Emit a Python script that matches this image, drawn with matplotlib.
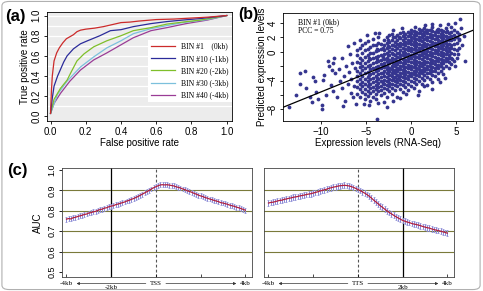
import numpy as np
import matplotlib
matplotlib.use("Agg")
import matplotlib.pyplot as plt
from matplotlib.patches import FancyBboxPatch
from matplotlib.lines import Line2D
import matplotlib.transforms as mtransforms

plt.rcParams['font.family'] = ['Liberation Sans', 'DejaVu Sans']
SERIF = ['Liberation Serif', 'DejaVu Serif']

# ---- (a) ROC curves ----
roc_labels = ["BIN #1    (0kb)", "BIN #10 (-1kb)", "BIN #20 (-2kb)", "BIN #30 (-3kb)", "BIN #40 (-4kb)"]
roc_colors = ["#cc2b2b", "#2b2b9a", "#7fbf2a", "#7cc0dc", "#9a3c96"]
roc1_fpr = [0.0, 0.005, 0.01, 0.02, 0.035, 0.05, 0.07, 0.09, 0.11, 0.13, 0.15, 0.17, 0.20, 0.25, 0.30, 0.35, 0.40, 0.45, 0.50, 0.60, 0.70, 0.80, 0.90, 1.0]
roc1_tpr = [0.03, 0.25, 0.40, 0.55, 0.63, 0.68, 0.73, 0.77, 0.79, 0.81, 0.84, 0.855, 0.865, 0.875, 0.89, 0.91, 0.93, 0.935, 0.945, 0.96, 0.965, 0.975, 0.985, 1.0]
roc10_fpr = [0.0, 0.01, 0.02, 0.04, 0.06, 0.075, 0.094, 0.13, 0.17, 0.21, 0.28, 0.34, 0.40, 0.47, 0.57, 0.66, 0.75, 0.85, 1.0]
roc10_tpr = [0.03, 0.18, 0.30, 0.40, 0.48, 0.54, 0.60, 0.67, 0.72, 0.75, 0.80, 0.85, 0.86, 0.89, 0.92, 0.94, 0.955, 0.97, 1.0]
roc20_fpr = [0.0, 0.02, 0.057, 0.094, 0.12, 0.15, 0.19, 0.245, 0.32, 0.40, 0.47, 0.57, 0.66, 0.75, 0.85, 1.0]
roc20_tpr = [0.03, 0.17, 0.28, 0.36, 0.45, 0.55, 0.62, 0.69, 0.75, 0.80, 0.85, 0.88, 0.915, 0.935, 0.955, 1.0]
roc30_fpr = [0.0, 0.04, 0.094, 0.17, 0.245, 0.32, 0.40, 0.47, 0.57, 0.66, 0.75, 0.89, 1.0]
roc30_tpr = [0.03, 0.22, 0.35, 0.49, 0.59, 0.68, 0.75, 0.82, 0.87, 0.90, 0.93, 0.96, 1.0]
roc40_fpr = [0.0, 0.02, 0.057, 0.11, 0.17, 0.245, 0.32, 0.40, 0.47, 0.57, 0.66, 0.77, 0.89, 1.0]
roc40_tpr = [0.03, 0.13, 0.23, 0.35, 0.46, 0.56, 0.63, 0.71, 0.78, 0.85, 0.88, 0.92, 0.955, 1.0]

# ---- (b) scatter: predicted vs measured expression ----
cloud_x = [-6.0, -5.7, -5.4, -5.1, -4.8, -4.5, -4.2, -3.9, -3.6, -3.3, -3.0, -2.7, -2.4, -2.1,
           -1.8, -1.5, -1.2, -0.9, -0.6, -0.3, 0.0, 0.3, 0.6, 0.9, 1.2, 1.5, 1.8, 2.1, 2.4,
           2.7, 3.0, 3.3, 3.6, 3.9, 4.2, 4.5, 4.8, 5.1, 5.4]
cloud_y = [
    [-5.8, -4.9, -4.1, -3.3, -2.6, -1.4, -0.4, 0.3],
    [-6.3, -5.2, -4.5, -3.7, -2.9, -2.1, -1.6, -0.8, 0.6],
    [-5.6, -4.8, -4.2, -3.4, -2.5, -1.9, -1.1, -0.2, 0.9],
    [-6.6, -5.9, -5.1, -4.4, -3.8, -3.0, -2.3, -1.5, -0.7, 0.2, 1.2],
    [-6.1, -5.4, -4.7, -4.0, -3.5, -2.8, -2.0, -1.3, -0.5, 0.4, 1.5],
    [-6.8, -5.7, -5.0, -4.4, -3.7, -3.1, -2.4, -1.8, -1.0, -0.2, 0.7],
    [-6.2, -5.5, -4.9, -4.2, -3.6, -2.9, -2.2, -1.6, -0.9, -0.1, 0.9, 1.8],
    [-6.6, -5.8, -5.2, -4.6, -4.0, -3.4, -2.7, -2.1, -1.4, -0.7, 0.1, 1.0],
    [-7.1, -5.5, -4.9, -4.3, -3.7, -3.1, -2.5, -1.9, -1.2, -0.6, 0.3, 1.3, 2.1],
    [-6.0, -5.3, -4.7, -4.1, -3.5, -2.9, -2.3, -1.7, -1.1, -0.4, 0.4, 1.1],
    [-5.7, -5.0, -4.4, -3.9, -3.3, -2.7, -2.1, -1.6, -1.0, -0.3, 0.2, 0.9, 1.6],
    [-6.3, -5.2, -4.6, -4.1, -3.5, -3.0, -2.4, -1.9, -1.3, -0.8, -0.1, 0.5, 1.2, 2.0],
    [-5.5, -4.8, -4.3, -3.8, -3.2, -2.7, -2.2, -1.6, -1.1, -0.5, 0.1, 0.7, 1.4, 2.3],
    [-5.9, -5.0, -4.5, -3.9, -3.4, -2.9, -2.4, -1.9, -1.3, -0.8, -0.2, 0.4, 1.0, 1.7, 2.5],
    [-5.3, -4.6, -4.0, -3.5, -3.0, -2.5, -2.0, -1.5, -1.0, -0.4, 0.2, 0.8, 1.4, 2.0],
    [-6.2, -4.8, -4.2, -3.7, -3.2, -2.7, -2.2, -1.7, -1.2, -0.7, -0.1, 0.5, 1.1, 1.7, 2.4],
    [-5.1, -4.4, -3.9, -3.4, -2.9, -2.4, -1.9, -1.4, -0.9, -0.4, 0.2, 0.8, 1.3, 1.9, 2.6],
    [-5.6, -4.6, -4.0, -3.5, -3.0, -2.5, -2.0, -1.5, -1.0, -0.5, 0.0, 0.6, 1.1, 1.6, 2.2, 2.8],
    [-4.9, -4.2, -3.6, -3.1, -2.6, -2.1, -1.6, -1.1, -0.6, -0.1, 0.4, 0.9, 1.4, 1.9, 2.5],
    [-5.3, -4.4, -3.8, -3.3, -2.8, -2.3, -1.8, -1.3, -0.8, -0.3, 0.2, 0.7, 1.2, 1.7, 2.2, 2.8],
    [-4.7, -4.0, -3.4, -2.9, -2.4, -1.9, -1.4, -0.9, -0.4, 0.1, 0.6, 1.1, 1.6, 2.1, 2.6, 3.1],
    [-5.0, -4.2, -3.6, -3.1, -2.6, -2.1, -1.6, -1.1, -0.6, -0.1, 0.4, 0.9, 1.4, 1.9, 2.4, 2.9],
    [-4.5, -3.8, -3.2, -2.7, -2.2, -1.7, -1.2, -0.7, -0.2, 0.3, 0.8, 1.3, 1.8, 2.3, 2.8],
    [-5.4, -4.1, -3.4, -2.9, -2.4, -1.9, -1.4, -0.9, -0.4, 0.1, 0.6, 1.1, 1.6, 2.1, 2.6, 3.2],
    [-4.4, -3.6, -3.0, -2.5, -2.0, -1.5, -1.0, -0.5, 0.0, 0.5, 1.0, 1.5, 2.0, 2.5, 3.0],
    [-3.9, -3.2, -2.7, -2.2, -1.7, -1.2, -0.7, -0.2, 0.3, 0.8, 1.3, 1.8, 2.3, 2.8, 3.3],
    [-4.6, -3.5, -2.9, -2.4, -1.9, -1.4, -0.9, -0.4, 0.1, 0.6, 1.1, 1.6, 2.1, 2.6, 3.0],
    [-3.7, -3.0, -2.5, -2.0, -1.5, -1.0, -0.5, 0.0, 0.5, 1.0, 1.5, 2.0, 2.5, 3.0],
    [-4.2, -3.2, -2.6, -2.1, -1.6, -1.1, -0.6, -0.1, 0.4, 0.9, 1.4, 1.9, 2.4, 2.9, 3.4],
    [-3.4, -2.7, -2.2, -1.7, -1.2, -0.7, -0.2, 0.3, 0.8, 1.3, 1.8, 2.3, 2.8],
    [-3.8, -2.9, -2.3, -1.8, -1.3, -0.8, -0.3, 0.2, 0.7, 1.2, 1.7, 2.2, 2.7, 3.2],
    [-2.6, -2.0, -1.5, -1.0, -0.5, 0.0, 0.5, 1.0, 1.5, 2.0, 2.5, 3.0],
    [-3.1, -2.2, -1.6, -1.1, -0.6, -0.1, 0.4, 0.9, 1.4, 1.9, 2.4, 2.9],
    [-1.9, -1.3, -0.8, -0.3, 0.2, 0.7, 1.2, 1.7, 2.2, 2.7, 3.3],
    [-2.3, -1.4, -0.9, -0.4, 0.1, 0.6, 1.1, 1.6, 2.1, 2.6],
    [-1.7, -0.9, -0.2, 0.5, 1.0, 1.6, 2.2, 2.8, 3.5],
    [-1.2, -0.3, 0.4, 1.1, 1.8, 2.4, 3.0],
    [-0.8, 0.3, 1.3, 2.0, 2.7],
    [0.6, 1.7, 2.5],
]
# second, offset set of columns filling the gaps of the dense core
fill_x = [-4.65, -3.75, -3.15, -2.55, -1.95, -1.35, -0.75, -0.15, 0.45, 1.05, 1.65, 2.25,
          2.85, 3.45, 4.05]
fill_y = [
    [-4.4, -3.2, -2.0, -0.8],
    [-4.8, -3.6, -2.4, -1.0, 0.4],
    [-4.3, -3.0, -1.9, -0.7, 0.6],
    [-4.0, -2.8, -1.6, -0.5, 0.8, 1.7],
    [-3.7, -2.6, -1.5, -0.3, 0.9, 2.1],
    [-3.5, -2.4, -1.3, -0.2, 1.0, 2.1],
    [-3.3, -2.2, -1.1, 0.0, 1.2, 2.4],
    [-3.1, -2.0, -0.9, 0.3, 1.4, 2.5],
    [-2.9, -1.8, -0.7, 0.5, 1.6, 2.6],
    [-2.7, -1.6, -0.5, 0.6, 1.7, 2.8],
    [-2.4, -1.4, -0.3, 0.8, 1.9, 2.9],
    [-2.2, -1.2, -0.1, 0.9, 2.0, 3.1],
    [-2.0, -1.0, 0.0, 1.0, 2.1, 3.0],
    [-1.4, -0.5, 0.6, 1.6, 2.6],
    [-1.1, 0.0, 1.0, 2.0, 2.9],
]
sparse_pts = [
    (-13.5, -7.6), (-12.3, -4.4), (-12.3, -2.9), (-11.8, -2.7), (-11.6, -5.0), (-11.2, -6.2),
    (-10.9, -3.5), (-10.7, -4.1), (-10.3, -6.6), (-9.9, -7.4), (-9.9, -7.9), (-9.8, -3.9),
    (-9.6, -3.2), (-9.2, -1.3), (-9.1, -2.0), (-8.6, -1.6), (-8.5, -0.9), (-8.9, -4.6),
    (-8.7, -5.5), (-8.4, -3.0), (-8.2, -6.2), (-8.0, -2.4), (-7.9, -4.1), (-7.7, -0.8),
    (-7.6, -5.0), (-7.4, -3.3), (-7.3, -6.8), (-7.2, -1.9), (-7.0, -4.4), (-6.9, -2.8),
    (-6.8, -0.3), (-6.7, -5.7), (-6.6, -3.7), (-6.5, -1.5), (-6.4, -6.3), (-6.3, -4.8),
    (-6.2, -2.2), (-6.1, -7.2), (-10.5, -5.6), (-11.0, -7.0), (-12.8, -6.0), (-9.4, -6.0),
    (-8.8, -2.5), (-7.5, -7.5), (-3.5, 2.6), (-2.0, 3.0), (-1.0, 3.3), (0.5, 3.5), (1.6, 3.8),
    (2.3, 3.9), (3.2, 3.7), (4.1, 3.9), (4.9, 4.0), (5.5, 4.6), (5.6, 3.3), (5.9, 2.2),
    (5.7, 1.0), (5.2, -0.3), (6.0, -1.3), (4.9, -2.0), (3.8, -3.6), (2.4, -5.2), (1.5, -4.8),
    (0.8, -6.0), (-0.5, -5.9), (-1.2, -6.4), (-2.0, -6.8), (-3.0, -7.0), (-3.8, -9.3),
    (-4.6, -7.4), (-5.2, -7.2), (-2.6, -7.6), (-5.6, 1.6), (-4.9, 2.3), (-6.3, 1.2),
    (-7.0, 0.8), (-4.0, 2.6), (5.3, 1.8), (4.6, -1.0), (3.2, -4.2),
]
fit_intercept = -0.5
fit_slope = 0.507

# ---- (c) AUC profiles around TSS / TTS ----
bin_kb = np.round(np.arange(-40, 41) / 10.0, 1)
auc_tss = [0.759, 0.762, 0.760, 0.766, 0.768, 0.772, 0.775, 0.778, 0.782, 0.784,
           0.789, 0.791, 0.795, 0.797, 0.802, 0.806, 0.808, 0.813, 0.815, 0.820,
           0.823, 0.825, 0.830, 0.833, 0.836, 0.840, 0.843, 0.848, 0.851, 0.856,
           0.860, 0.865, 0.870, 0.876, 0.882, 0.888, 0.894, 0.900, 0.907, 0.913,
           0.918, 0.923, 0.927, 0.928, 0.927, 0.928, 0.926, 0.924, 0.922, 0.918,
           0.915, 0.912, 0.907, 0.904, 0.898, 0.895, 0.891, 0.886, 0.882, 0.877,
           0.873, 0.870, 0.865, 0.862, 0.858, 0.855, 0.851, 0.848, 0.845, 0.840,
           0.838, 0.835, 0.832, 0.828, 0.825, 0.822, 0.818, 0.815, 0.811, 0.807,
           0.803]
auc_tts = [0.838, 0.841, 0.842, 0.845, 0.848, 0.851, 0.852, 0.856, 0.858, 0.861,
           0.863, 0.866, 0.868, 0.870, 0.873, 0.875, 0.877, 0.880, 0.882, 0.884,
           0.887, 0.890, 0.893, 0.897, 0.900, 0.903, 0.906, 0.910, 0.913, 0.916,
           0.918, 0.921, 0.923, 0.924, 0.925, 0.924, 0.922, 0.919, 0.915, 0.910,
           0.905, 0.899, 0.893, 0.887, 0.880, 0.872, 0.863, 0.853, 0.844, 0.835,
           0.825, 0.817, 0.808, 0.800, 0.792, 0.785, 0.778, 0.771, 0.765, 0.759,
           0.753, 0.749, 0.745, 0.742, 0.738, 0.735, 0.733, 0.730, 0.727, 0.723,
           0.720, 0.717, 0.715, 0.711, 0.708, 0.705, 0.703, 0.700, 0.697, 0.694,
           0.690]
auc_err_tss = 0.012
auc_err_tts = 0.014

W, H = 483, 291
fig = plt.figure(figsize=(W / 100, H / 100), dpi=100)


def box(l, t, r, b):
    return [l / W, 1 - b / H, (r - l) / W, (b - t) / H]


fig.patches.append(FancyBboxPatch((0.004, 0.005), 0.99, 0.99, boxstyle="round,pad=0,rounding_size=0.015",
                                  transform=fig.transFigure, fill=False, ec="#b0b0b0", lw=0.8))

# (a)
ax = fig.add_axes(box(47, 12, 232, 121))
ax.set_facecolor("#ececec")
for yy in np.arange(0.1, 1.01, 0.1):
    ax.axhline(yy, color="white", lw=0.9, zorder=0)
roc = [(roc1_fpr, roc1_tpr), (roc10_fpr, roc10_tpr), (roc20_fpr, roc20_tpr),
       (roc30_fpr, roc30_tpr), (roc40_fpr, roc40_tpr)]
for (fx, ty), c in zip(roc[::-1], roc_colors[::-1]):
    ax.plot(fx, ty, color=c, lw=0.9)
ax.set_xlim(-0.02, 1.03)
ax.set_ylim(-0.045, 1.035)
ax.set_xticks([0, 0.2, 0.4, 0.6, 0.8, 1.0])
ax.set_yticks([0, 0.2, 0.4, 0.6, 0.8, 1.0])
ax.set_xticklabels(["0.0", "0.2", "0.4", "0.6", "0.8", "1.0"])
ax.set_yticklabels(["0.0", "0.2", "0.4", "0.6", "0.8", "1.0"], rotation=90, va="center")
ax.tick_params(labelsize=7, length=2.5, width=0.6, pad=1.5)
ax.set_xlabel("False positive rate", fontsize=7, labelpad=1)
ax.set_ylabel("True positive rate", fontsize=7, labelpad=1)
for s in ax.spines.values():
    s.set_linewidth(0.6)
handles = [Line2D([], [], color=c, lw=0.9) for c in roc_colors]
ax.legend(handles, roc_labels, loc="lower right", bbox_to_anchor=(1.0, 0.17),
          prop={"family": SERIF, "size": 5.5}, frameon=True, fancybox=False,
          edgecolor="none", facecolor="white", framealpha=1, handlelength=3.2,
          labelspacing=0.55, borderaxespad=0, borderpad=0.4)

# (b)
bx = fig.add_axes(box(283, 13, 473, 121))
xs = np.concatenate([np.full(len(c), x) for x, c in zip(cloud_x, cloud_y)] +
                    [np.full(len(c), x) for x, c in zip(fill_x, fill_y)] +
                    [np.array([p[0] for p in sparse_pts])])
ys = np.concatenate([np.array(c) for c in cloud_y] + [np.array(c) for c in fill_y] +
                    [np.array([p[1] for p in sparse_pts])])
bx.scatter(xs, ys, s=7.5, color="#35358f", linewidths=0)
bx.axline((0, fit_intercept), slope=fit_slope, color="black", lw=0.9)
bx.set_xlim(-14.2, 6.9)
bx.set_ylim(-9.6, 5.4)
bx.set_xticks([-10, -5, 0, 5])
bx.set_yticks([-8, -6, -4, -2, 0, 2, 4])
bx.set_yticklabels(["\u22128", "", "\u22124", "", "0", "2", "4"], rotation=90, va="center")
bx.tick_params(labelsize=7, length=2.5, width=0.6, pad=1.5)
bx.set_xlabel("Expression levels (RNA-Seq)", fontsize=7, labelpad=1)
bx.set_ylabel("Predicted expression levels", fontsize=7, labelpad=0)
bx.text(0.08, 0.95, "BIN #1 (0kb)\nPCC = 0.75", transform=bx.transAxes, va="top", ha="left",
        fontsize=5.5, family=SERIF, linespacing=1.1)
for s in bx.spines.values():
    s.set_linewidth(0.6)


# (c)
def auc_panel(rect, vals, err, site, mark, ylabels):
    cx = fig.add_axes(rect)
    for g in [0.6, 0.7, 0.8, 0.9]:
        cx.axhline(g, color="#7a7a3a", lw=0.8, zorder=0)
    cx.axvline(mark, color="black", lw=0.9, zorder=1)
    cx.axvline(0, color="#555555", lw=0.8, ls=(0, (2.5, 2)), zorder=1)
    cx.errorbar(bin_kb, vals, yerr=err, fmt="none", ecolor="#8a8ad6", elinewidth=0.7,
                capsize=0.8, capthick=0.5, zorder=2)
    cx.plot(bin_kb, vals, color="#b02040", lw=0.9, zorder=3)
    cx.set_xlim(-4.2, 4.3)
    cx.set_ylim(0.475, 1.01)
    cx.set_xticks([-4, -2, 0, 2, 4])
    cx.set_xticklabels([])
    cx.tick_params(axis="x", direction="in", length=2, width=0.5)
    if ylabels:
        cx.set_yticks([0.5, 0.6, 0.7, 0.8, 0.9, 1.0])
        cx.set_yticklabels(["0.5", "0.6", "0.7", "0.8", "0.9", "1.0"], rotation=90, va="center")
        cx.tick_params(axis="y", labelsize=6.5, length=2.5, width=0.6, pad=1.5)
        cx.set_ylabel("AUC", fontsize=7, labelpad=3)
    else:
        cx.set_yticks([])
    for s in cx.spines.values():
        s.set_linewidth(0.6)
        s.set_color("#444444")
    tr = mtransforms.blended_transform_factory(cx.transData, cx.transAxes)
    fs = 5
    ty = -0.06
    cx.text(-4, ty, "-4kb", transform=tr, ha="center", va="center", fontsize=fs, family=SERIF)
    cx.text(4, ty, "4kb", transform=tr, ha="center", va="center", fontsize=fs, family=SERIF)
    cx.text(0, ty, site, transform=tr, ha="center", va="center", fontsize=fs, family=SERIF)
    cx.text(mark, -0.10, ("-2kb" if mark < 0 else "2kb"), transform=tr, ha="center", va="center",
            fontsize=fs, family=SERIF)
    ap = dict(arrowstyle="-|>", lw=0.5, color="#333333", mutation_scale=4, shrinkA=0, shrinkB=0)
    cx.annotate("", xy=(-3.55, ty), xytext=(-0.45, ty), xycoords=tr, textcoords=tr,
                arrowprops=ap, annotation_clip=False)
    cx.annotate("", xy=(3.6, ty), xytext=(0.45, ty), xycoords=tr, textcoords=tr,
                arrowprops=ap, annotation_clip=False)
    return cx


auc_panel(box(62, 168, 252, 277), auc_tss, auc_err_tss, "TSS", -2, True)
auc_panel(box(264, 168, 454, 277), auc_tts, auc_err_tts, "TTS", 2, False)

fig.text(5 / W, 1 - 16 / H, "(a)", fontsize=12, fontweight="bold", va="center", ha="left")
fig.text(238 / W, 1 - 14 / H, "(b)", fontsize=11.5, fontweight="bold", va="center", ha="left")
fig.text(7 / W, 1 - 171 / H, "(c)", fontsize=12, fontweight="bold", va="center", ha="left")

fig.savefig("out.png", dpi=100)
